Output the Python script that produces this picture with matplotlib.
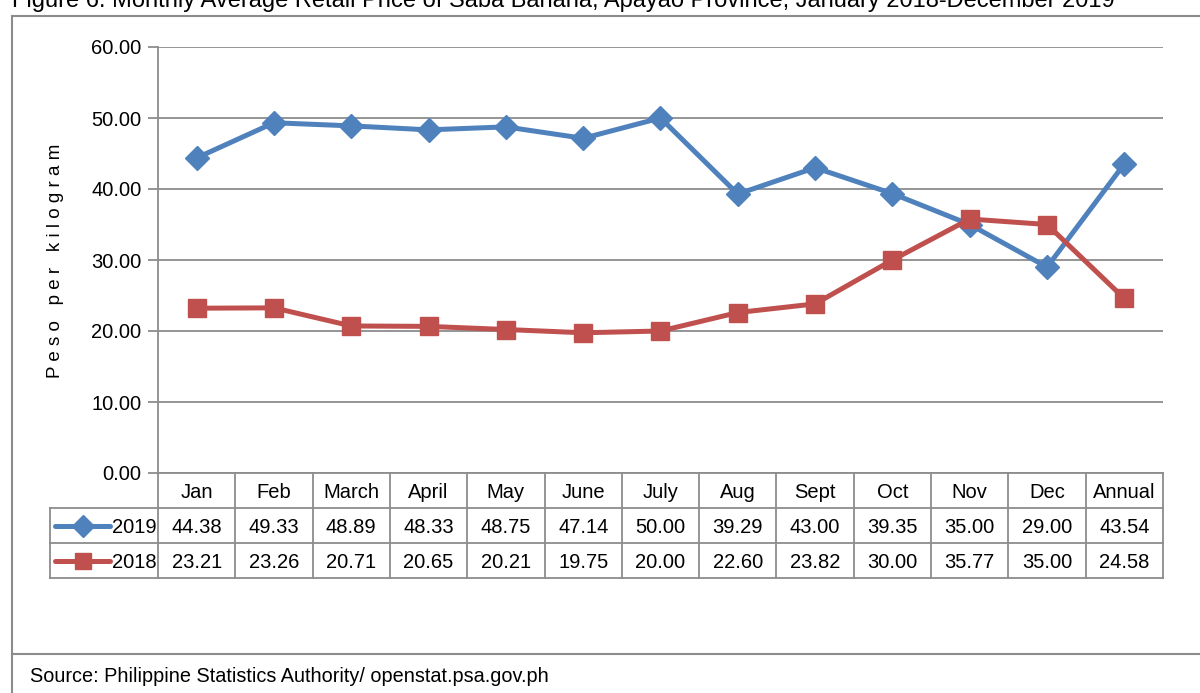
import matplotlib.pyplot as plt
from matplotlib.lines import Line2D

plt.rcParams["font.family"] = ["Liberation Sans", "DejaVu Sans"]

categories = ["Jan", "Feb", "March", "April", "May", "June", "July",
              "Aug", "Sept", "Oct", "Nov", "Dec", "Annual"]
prices_2019 = [44.38, 49.33, 48.89, 48.33, 48.75, 47.14, 50.00,
               39.29, 43.00, 39.35, 35.00, 29.00, 43.54]
prices_2018 = [23.21, 23.26, 20.71, 20.65, 20.21, 19.75, 20.00,
               22.60, 23.82, 30.00, 35.77, 35.00, 24.58]
yticks = [0, 10, 20, 30, 40, 50, 60]

BLUE = "#4F81BD"
RED = "#C0504D"
GRID = "#8C8C8C"
W, H = 1200, 693
FS = 14.5


def fx(px):
    return px / W


def fy(py):
    return 1 - py / H


fig = plt.figure(figsize=(12, 6.93), dpi=100)

# outer frame of the figure box
frame = dict(color="#8C8C8C", lw=1.5, transform=fig.transFigure)
fig.add_artist(Line2D([fx(12), fx(1200)], [fy(15.5), fy(15.5)], **frame))
fig.add_artist(Line2D([fx(12), fx(12)], [fy(15.5), fy(693)], **frame))
fig.add_artist(Line2D([fx(12), fx(1200)], [fy(654), fy(654)], **frame))

# title is cut off by the top edge in the original
fig.text(fx(12), fy(7), "Figure 6. Monthly Average Retail Price of Saba Banana, "
         "Apayao Province, January 2018-December 2019",
         fontsize=17, va="baseline", ha="left")
fig.text(fx(30), fy(677), "Source: Philippine Statistics Authority/ openstat.psa.gov.ph",
         fontsize=14.3, va="center", ha="left")

# main line chart
ax = fig.add_axes([fx(158), fy(473), fx(1163) - fx(158), fy(47) - fy(473)])
x = list(range(len(categories)))
ax.plot(x, prices_2019, color=BLUE, lw=3.6, marker="D", ms=12,
        markeredgecolor=BLUE, solid_capstyle="round", zorder=3)
ax.plot(x, prices_2018, color=RED, lw=3.6, marker="s", ms=13,
        markeredgecolor=RED, solid_capstyle="round", zorder=4)
ax.set_xlim(-0.5, len(categories) - 0.5)
ax.set_ylim(0, 60)
ax.set_yticks(yticks)
ax.set_yticklabels([f"{v:.2f}" for v in yticks], fontsize=FS)
ax.set_xticks([])
ax.grid(axis="y", color=GRID, lw=1.3)
ax.set_axisbelow(True)
for side in ["top", "right", "bottom"]:
    ax.spines[side].set_visible(False)
ax.spines["left"].set_color(GRID)
ax.spines["left"].set_linewidth(1.3)
ax.tick_params(axis="y", color=GRID, width=1.3, length=7, pad=5)

fig.text(fx(56), fy(261), "P e s o   p e r   k i l o g r a m", rotation=90,
         fontsize=13.5, va="center", ha="center")

# data table under the chart
tab = fig.add_axes([fx(158), fy(578), fx(1163) - fx(158), fy(473) - fy(578)])
tab.set_xlim(-0.5, len(categories) - 0.5)
tab.set_ylim(3, 0)
tab.axis("off")
col_px = (1163 - 158) / len(categories)
leg_left = -0.5 - (158 - 50) / col_px
cell = dict(color=GRID, lw=1.3, clip_on=False)
tab.plot([-0.5, 12.5], [0, 0], **cell)
for yy in [1, 2, 3]:
    tab.plot([leg_left, 12.5], [yy, yy], **cell)
for xx in [i - 0.5 for i in range(len(categories) + 1)]:
    tab.plot([xx, xx], [0, 3], **cell)
tab.plot([leg_left, leg_left], [1, 3], **cell)

for i, cat in enumerate(categories):
    tab.text(i, 0.55, cat, ha="center", va="center", fontsize=FS)
    tab.text(i, 1.55, f"{prices_2019[i]:.2f}", ha="center", va="center", fontsize=FS)
    tab.text(i, 2.55, f"{prices_2018[i]:.2f}", ha="center", va="center", fontsize=FS)

# legend keys inside the table
key_x0 = leg_left + 5 / col_px
key_x1 = leg_left + 60 / col_px
key_mid = (key_x0 + key_x1) / 2
tab.plot([key_x0, key_x1], [1.5, 1.5], color=BLUE, lw=3.6, clip_on=False,
         solid_capstyle="round")
tab.plot([key_mid], [1.5], marker="D", ms=11, color=BLUE, clip_on=False)
tab.plot([key_x0, key_x1], [2.5, 2.5], color=RED, lw=3.6, clip_on=False,
         solid_capstyle="round")
tab.plot([key_mid], [2.5], marker="s", ms=12, color=RED, clip_on=False)
tab.text(-0.52, 1.55, "2019", ha="right", va="center", fontsize=FS)
tab.text(-0.52, 2.55, "2018", ha="right", va="center", fontsize=FS)

fig.savefig("out.png", dpi=100)
